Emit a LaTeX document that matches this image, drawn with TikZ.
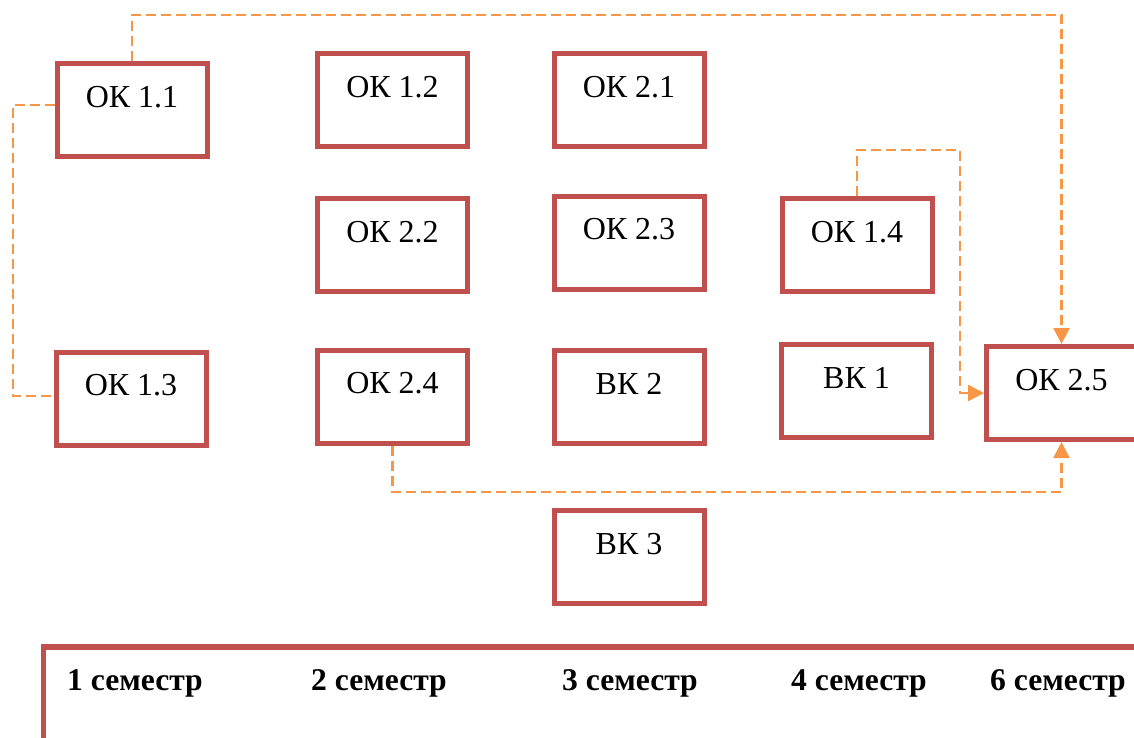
\documentclass[tikz,border=0pt]{standalone}
\usepackage{fontspec}
\setmainfont{Liberation Serif}
\usetikzlibrary{arrows.meta}
\definecolor{boxred}{HTML}{C0504D}
\definecolor{linkorange}{HTML}{F79646}
\tikzset{
  course/.style={draw=boxred, line width=5pt, fill=white, inner sep=0pt,
    minimum width=150pt, minimum height=93pt,
    label={[font=\fontsize{32}{38}\selectfont, yshift=13pt]center:#1}},
  link/.style={draw=linkorange, line width=2.5pt, dash pattern=on 10pt off 5pt},
  tip/.style={-{Triangle[width=16pt,length=16pt]}},
  semlabel/.style={anchor=base west, inner sep=0pt, font=\fontsize{31.6}{38}\selectfont\bfseries},
  frameline/.style={draw=boxred, line width=5.5pt}
}
\begin{document}
\begin{tikzpicture}[x=1pt,y=-1pt]
\useasboundingbox (0,0) rectangle (1134,738);
\clip (0,0) rectangle (1134,738);
% course boxes
\node[course={ОК 1.1}] (ok11) at (132,110) {};
\node[course={ОК 1.2}] (ok12) at (392.5,100.5) {};
\node[course={ОК 2.1}] (ok21) at (629,100.5) {};
\node[course={ОК 2.2}] (ok22) at (392.5,245) {};
\node[course={ОК 2.3}] (ok23) at (629,242.5) {};
\node[course={ОК 1.4}] (ok14) at (857,245) {};
\node[course={ОК 1.3}] (ok13) at (131,398.5) {};
\node[course={ОК 2.4}] (ok24) at (392.5,396.5) {};
\node[course={ВК 2}] (vk2) at (629,396.5) {};
\node[course={ВК 1}] (vk1) at (856.5,391) {};
\node[course={ОК 2.5}] (ok25) at (1061.5,393) {};
\node[course={ВК 3}] (vk3) at (629,557) {};
% routing coordinates
\coordinate (topy) at (0,15);
\coordinate (c3) at (960,150);
\coordinate (boty) at (0,492);
\coordinate (leftx) at (13,0);
% connectors
\draw[link,tip] (ok11.north) -- (ok11.north |- topy) -| (ok25.north);
\draw[link] ([yshift=5pt]ok11.west) -| ([yshift=2.5pt]leftx |- ok13.west) -- ([yshift=2.5pt]ok13.west);
\draw[link,tip] (ok14.north) |- (c3) |- (ok25.west);
\draw[link,tip] (ok24.south) -- (ok24.south |- boty) -| (ok25.south);
% semester frame
\coordinate (fcorner) at (43.5,647);
\draw[frameline] (43.5,760) -- (fcorner) -- (1160,647);
\node[semlabel] (s1) at (67,690) {1 семестр};
\node[semlabel] (s2) at (311,690) {2 семестр};
\node[semlabel] (s3) at (562,690) {3 семестр};
\node[semlabel] (s4) at (791,690) {4 семестр};
\node[semlabel] (s6) at (990,690) {6 семестр};
\end{tikzpicture}
\end{document}
